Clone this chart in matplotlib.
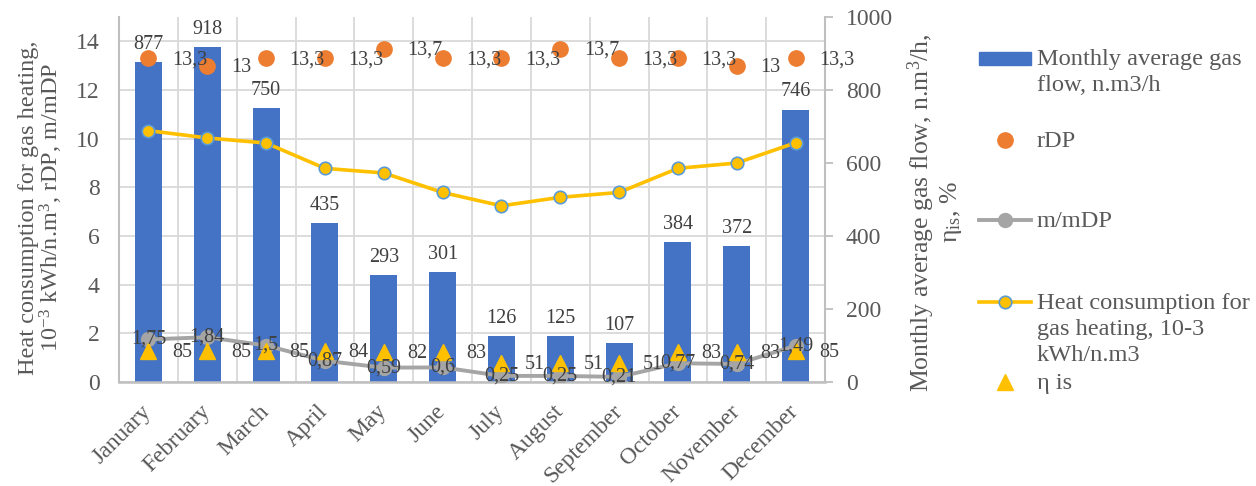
import matplotlib
matplotlib.use("Agg")
import matplotlib.pyplot as plt
from matplotlib.patches import Rectangle
import numpy as np

plt.rcParams['font.family'] = ['Liberation Serif', 'DejaVu Serif']
plt.rcParams['mathtext.fontset'] = 'custom'
plt.rcParams['mathtext.rm'] = 'Liberation Serif'
plt.rcParams['mathtext.it'] = 'Liberation Serif:italic'
plt.rcParams['mathtext.default'] = 'regular'

months = ["January", "February", "March", "April", "May", "June", "July",
          "August", "September", "October", "November", "December"]
gas_flow = [877, 918, 750, 435, 293, 301, 126, 125, 107, 384, 372, 746]
rdp = [13.3, 13, 13.3, 13.3, 13.7, 13.3, 13.3, 13.7, 13.3, 13.3, 13, 13.3]
m_mdp = [1.75, 1.84, 1.5, 0.87, 0.59, 0.6, 0.25, 0.25, 0.21, 0.77, 0.74, 1.49]
heat = [10.33, 10.03, 9.82, 8.78, 8.59, 7.79, 7.24, 7.59, 7.79, 8.78, 9.0, 9.83]
eta_is = [85, 85, 85, 84, 82, 83, 51, 51, 51, 83, 83, 85]

BLUE = '#4472C4'
ORANGE = '#ED7D31'
GRAY = '#A5A5A5'
GOLD = '#FFC000'
EDGE = '#5B9BD5'
TXT = '#595959'
LBL = '#404040'
GRID = '#D9D9D9'
AXIS = '#BFBFBF'

W, H = 1256, 486


def fmt(v):
    return f"{v:g}".replace('.', ',')


fig = plt.figure(figsize=(W / 100, H / 100), dpi=100)
ax = fig.add_axes([119 / W, 1 - 382 / H, (825 - 119) / W, (382 - 17) / H])
axb = ax.twinx()   # bars, right scale
axl = ax.twinx()   # lines on left scale
axe = ax.twinx()   # eta markers on right scale

x = np.arange(len(months))

# left scale axis holds the grid and the tick labels
ax.set_xlim(-0.5, len(months) - 0.5)
ax.set_ylim(0, 15)
ax.set_yticks(np.arange(0, 15, 2))
ax.set_xticks(x)
ax.set_xticks(np.arange(-0.5, len(months)), minor=True)
ax.grid(axis='y', color=GRID, linewidth=1.3)
ax.grid(axis='x', which='minor', color=GRID, linewidth=1.3)
ax.tick_params(axis='y', length=0, labelsize=17, labelcolor=TXT, pad=14)
ax.tick_params(axis='x', which='both', length=0)
ax.set_xticklabels(months, rotation=45, ha='right', va='center',
                   rotation_mode='anchor', fontsize=17, color=TXT)
ax.tick_params(axis='x', pad=19)
ax.set_axisbelow(True)
for s in ['top', 'right', 'bottom']:
    ax.spines[s].set_visible(False)
ax.spines['left'].set_color(AXIS)
ax.spines['left'].set_linewidth(1.5)
ax.set_ylabel("Heat consumption for gas heating,\n10$^{-3}$ kWh/n.m$^{3}$, rDP, m/mDP",
              fontsize=17.5, color=TXT, linespacing=0.95, labelpad=8)
ax.yaxis.label.set_y(0.478)

# gas flow bars
axb.bar(x, gas_flow, width=0.46, color=BLUE, zorder=2)
axb.set_ylim(0, 1000)
axb.set_yticks(np.arange(0, 1001, 200))
axb.tick_params(axis='y', length=6, width=1.3, color=AXIS, labelsize=17,
                labelcolor=TXT, pad=9)
for s in ['top', 'left']:
    axb.spines[s].set_visible(False)
axb.spines['right'].set_color(AXIS)
axb.spines['right'].set_linewidth(1.5)
axb.spines['bottom'].set_color(AXIS)
axb.spines['bottom'].set_linewidth(1.8)
axb.set_ylabel("Monthly average gas flow, n.m$^{3}$/h,\n\u03b7$_{is}$, %",
               fontsize=18.5, color=TXT, linespacing=1.05, labelpad=9)
axb.yaxis.label.set_y(0.465)

# left scale series
axl.set_ylim(0, 15)
axl.yaxis.set_visible(False)
for s in axl.spines.values():
    s.set_visible(False)
axl.plot(x, rdp, 'o', color=ORANGE, markersize=11, zorder=2)
axl.plot(x, m_mdp, '-o', color=GRAY, linewidth=2.8, markersize=10, zorder=3)
axl.plot(x, heat, '-o', color=GOLD, linewidth=2.6, markersize=9,
         markerfacecolor=GOLD, markeredgecolor=EDGE, markeredgewidth=1.2, zorder=4)

# eta markers
axe.set_ylim(0, 1000)
axe.yaxis.set_visible(False)
for s in axe.spines.values():
    s.set_visible(False)
axe.plot(x, eta_is, '^', color=GOLD, markersize=11, zorder=2)

# data labels, drawn on the top axes so they sit above every series
for i in x:
    axe.annotate(str(gas_flow[i]), (i, gas_flow[i]), xycoords=axb.transData,
                 xytext=(0, 6), textcoords='offset points', ha='center',
                 va='bottom', fontsize=14.5, color=LBL)
    axe.annotate(fmt(rdp[i]), (i, rdp[i]), xycoords=axl.transData,
                 xytext=(17, -1), textcoords='offset points', ha='left',
                 va='center', fontsize=14.5, color=LBL)
    axe.annotate(fmt(m_mdp[i]), (i, m_mdp[i]), xycoords=axl.transData,
                 ha='center', va='center', fontsize=14.5, color=LBL)
    axe.annotate(fmt(eta_is[i]), (i, eta_is[i]), xycoords=axe.transData,
                 xytext=(17, -1), textcoords='offset points', ha='left',
                 va='center', fontsize=14.5, color=LBL)

# legend built by hand in pixel coordinates
lax = fig.add_axes([0, 0, 1, 1])
lax.set_xlim(0, W)
lax.set_ylim(H, 0)
lax.axis('off')
hx0, hx1, hxc, tx = 979, 1031, 1005, 1037
lax.add_patch(Rectangle((hx0, 52), hx1 - hx0, 13, color=BLUE))
lax.plot([hxc], [140], 'o', color=ORANGE, markersize=11)
lax.plot([hx0, hx1], [220, 220], color=GRAY, linewidth=2.8)
lax.plot([hxc], [220], 'o', color=GRAY, markersize=10)
lax.plot([hx0, hx1], [302, 302], color=GOLD, linewidth=2.6)
lax.plot([hxc], [302], 'o', color=GOLD, markersize=9,
         markeredgecolor=EDGE, markeredgewidth=1.2)
lax.plot([hxc], [382], '^', color=GOLD, markersize=11)
entries = [(58, "Monthly average gas\nflow, n.m3/h"),
           (140, "rDP"),
           (220, "m/mDP"),
           (302, "Heat consumption for\ngas heating, 10-3\nkWh/n.m3"),
           (382, "\u03b7 is")]
for y, label in entries:
    lax.text(tx, y - 9, label, ha='left', va='top', fontsize=17.6,
             color=TXT, linespacing=1.3)

fig.savefig("out.png", dpi=100)
